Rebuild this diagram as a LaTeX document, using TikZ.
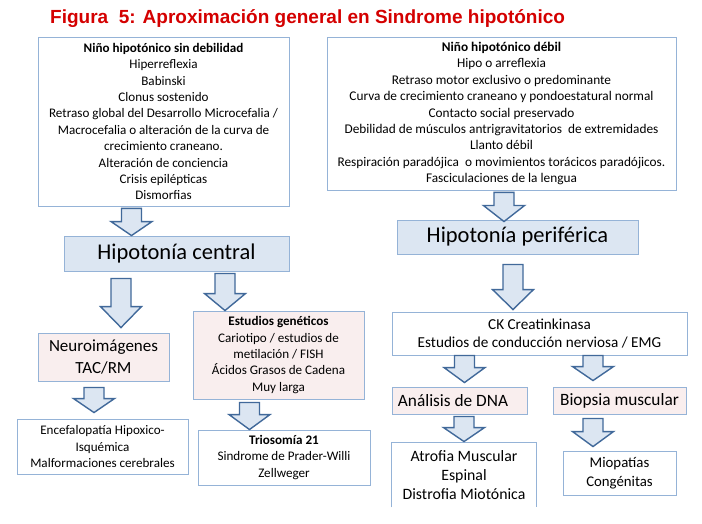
\documentclass[tikz,border=0pt]{standalone}
\usepackage{fontspec}
\setmainfont{Carlito}
\newfontfamily\titlefont{Liberation Sans}
\usetikzlibrary{calc,positioning}

\definecolor{boxline}{HTML}{95B3D7}
\definecolor{arrline}{HTML}{41699A}
\definecolor{arrfill}{HTML}{DCE6F2}
\definecolor{pinkfill}{HTML}{F9EEEE}
\definecolor{titlered}{HTML}{D40000}

\tikzset{
  box/.style={draw=boxline,line width=0.9pt,fill=white,align=center,inner sep=0pt,
              font=\fontsize{13.1}{16.4}\selectfont},
  main box/.style={box,fill=arrfill,font=\fontsize{22.5}{26}\selectfont},
  test box/.style={box,fill=pinkfill},
  big arrow/.style={draw=arrline,fill=arrfill,line width=1.4pt,line join=miter}
}

% block arrow: x, top node, top gap, bottom node, bottom gap, head length
\newcommand{\barrow}[6]{%
  \path[big arrow] let \p1=(#2.south), \p2=(#4.north) in
    ({#1pt-10pt},{\y1-(#3pt)}) -- ({#1pt+10pt},{\y1-(#3pt)})
    -- ({#1pt+10pt},{\y2+(#5pt)+#6pt}) -- ({#1pt+20.5pt},{\y2+(#5pt)+#6pt})
    -- ({#1pt},{\y2+(#5pt)}) -- ({#1pt-20.5pt},{\y2+(#5pt)+#6pt})
    -- ({#1pt-10pt},{\y2+(#5pt)+#6pt}) -- cycle;}

\begin{document}
\begin{tikzpicture}[x=1pt,y=-1pt]
  \useasboundingbox (0,0) rectangle (702,524);

  \node[font=\titlefont\bfseries\fontsize{19}{22}\selectfont,text=titlered,anchor=west,inner sep=0pt]
    (title) at (50,19) {Figura\ \ 5: Aproximación general en Sindrome hipotónico};

  % top boxes
  \node[box,minimum width=251,minimum height=169] (sindeb) at (163.5,121.5)
    {\textbf{Niño hipotónico sin debilidad}\\ Hiperreflexia\\ Babinski\\ Clonus sostenido\\
     Retraso global del Desarrollo Microcefalia /\\ Macrocefalia o alteración de la curva de\\
     crecimiento craneano.\\ Alteración de conciencia\\ Crisis epilépticas\\ Dismorfias};
  \node[box,minimum width=349,minimum height=153,font=\fontsize{13.3}{16.4}\selectfont] (debil) at (501.5,113.5)
    {\textbf{Niño hipotónico débil}\\ Hipo o arreflexia\\ Retraso motor exclusivo o predominante\\
     Curva de crecimiento craneano y pondoestatural normal\\ Contacto social preservado\\
     Debilidad de músculos antrigravitatorios\ \ de extremidades\\ Llanto débil\\
     Respiración paradójica\ \ o movimientos torácicos paradójicos.\\ Fasciculaciones de la lengua};

  % central side
  \node[main box,minimum width=225,minimum height=35] (central) at (176.5,253.5) {Hipotonía central};
  \node[test box,minimum width=131,minimum height=48,font=\fontsize{17}{21.5}\selectfont]
    (neuro) at (103.5,357) {Neuroimágenes\\ TAC/RM};
  \node[test box,minimum width=171,minimum height=88] (genet) at (278.5,355)
    {\textbf{Estudios genéticos}\\ Cariotipo / estudios de\\ metilación / FISH\\
     Ácidos Grasos de Cadena\\ Muy larga};
  \node[box,minimum width=171,minimum height=55,font=\fontsize{13.1}{16.7}\selectfont]
    (encef) at (102.5,446.5) {Encefalopatía Hipoxico-\\ Isquémica\\ Malformaciones cerebrales};
  \node[box,minimum width=172,minimum height=55,font=\fontsize{13.1}{16.7}\selectfont]
    (trisom) at (284,457.5) {\textbf{Triosomía 21}\\ Sindrome de Prader-Willi\\ Zellweger};

  % peripheral side
  \node[main box,minimum width=241,minimum height=34] (perif) at (517.5,237) {Hipotonía periférica};
  \node[box,minimum width=295,minimum height=43,font=\fontsize{15.2}{18}\selectfont]
    (ck) at (539.5,333.5) {CK Creatinkinasa\\ Estudios de conducción nerviosa / EMG};
  \node[test box,minimum width=135,minimum height=27,font=\fontsize{17.3}{20}\selectfont]
    (dna) at (459.5,400.5) {Análisis de DNA\hspace*{13pt}};
  \node[test box,minimum width=133,minimum height=27,font=\fontsize{17.3}{20}\selectfont]
    (biopsia) at (619.5,400.5) {Biopsia muscular};
  \node[box,draw=none,minimum width=144,minimum height=64,font=\fontsize{15.8}{19}\selectfont]
    (atrofia) at (464,475) {Atrofia Muscular\\ Espinal\\ Distrofia Miotónica};
  \draw[boxline,line width=0.9pt] (atrofia.south west) |- (atrofia.north east) -- (atrofia.south east);
  \node[box,minimum width=113,minimum height=44,font=\fontsize{14.8}{18.5}\selectfont]
    (miopat) at (619.5,473) {Miopatías\\ Congénitas};

  % arrows
  \barrow{131.5}{sindeb}{2}{central}{0}{14}
  \barrow{121}{central}{7}{neuro}{5}{21}
  \barrow{225}{central}{2}{genet}{0}{17}
  \barrow{94}{neuro}{6}{encef}{6}{14}
  \barrow{249.5}{genet}{3}{trisom}{0}{15}
  \barrow{504}{debil}{2}{perif}{-2}{16}
  \barrow{513}{perif}{10}{ck}{2}{20}
  \barrow{464.5}{ck}{0}{dna}{4}{15}
  \barrow{593}{ck}{0}{biopsia}{6}{14}
  \barrow{464}{dna}{2}{atrofia}{1}{14}
  \barrow{593}{biopsia}{4}{miopat}{4}{15}
\end{tikzpicture}
\end{document}
